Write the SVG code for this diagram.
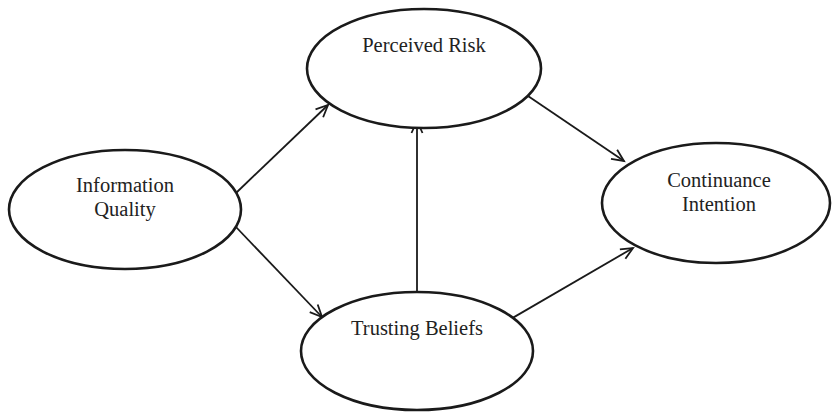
<svg xmlns="http://www.w3.org/2000/svg" width="832" height="413" viewBox="0 0 832 413">
<style>
.node ellipse{fill:#fff;stroke:#1a1a1a;stroke-width:2.6}
.node text{font-family:"Liberation Serif","Times New Roman",serif;font-size:20.5px;fill:#222;text-anchor:middle}
.edge{stroke:#1a1a1a;stroke-width:1.8;fill:none;marker-end:url(#arr)}
</style>
<defs>
<marker id="arr" markerWidth="16" markerHeight="16" refX="13" refY="6" orient="auto" markerUnits="userSpaceOnUse" viewBox="0 0 16 12">
<polyline points="1,0.5 13,6 1,11.5" fill="none" stroke="#1a1a1a" stroke-width="1.8"/>
</marker>
</defs>
<g id="connectors">
<line class="edge" x1="236" y1="193" x2="328" y2="105"/>
<line class="edge" x1="236" y1="227" x2="322" y2="317"/>
<line class="edge" x1="417" y1="292" x2="417" y2="121"/>
<line class="edge" x1="528" y1="96" x2="624" y2="161"/>
<line class="edge" x1="497" y1="327" x2="633" y2="248"/>
</g>
<g id="information-quality" class="node">
<ellipse cx="125" cy="209.5" rx="116" ry="59.5"/>
<text x="125" y="192">Information</text>
<text x="125" y="216">Quality</text>
</g>
<g id="perceived-risk" class="node">
<ellipse cx="424" cy="68.5" rx="117" ry="59.5"/>
<text x="424" y="52">Perceived Risk</text>
</g>
<g id="continuance-intention" class="node">
<ellipse cx="716" cy="203" rx="114" ry="60"/>
<text x="719" y="187">Continuance</text>
<text x="719" y="211">Intention</text>
</g>
<g id="trusting-beliefs" class="node">
<ellipse cx="417" cy="351" rx="116" ry="59"/>
<text x="417" y="335">Trusting Beliefs</text>
</g>
</svg>
